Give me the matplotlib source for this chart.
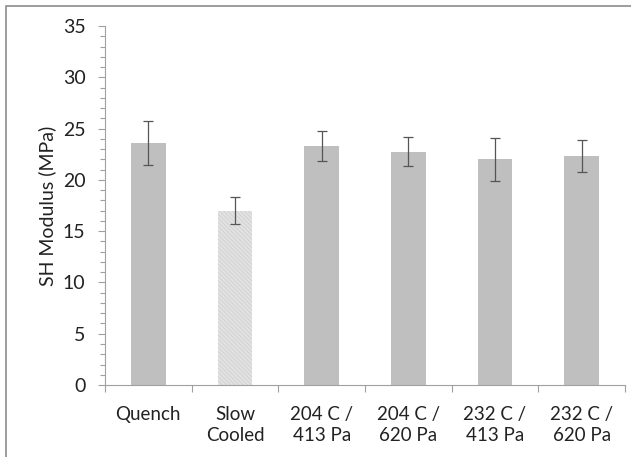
import numpy as np
import matplotlib
matplotlib.use("Agg")
import matplotlib.pyplot as plt
from matplotlib.patches import Rectangle
from matplotlib.ticker import MultipleLocator, FixedLocator

plt.rcParams["font.family"] = ["Lato", "DejaVu Sans"]
plt.rcParams["hatch.linewidth"] = 0.5

# SH modulus per processing condition
categories = ["Quench", "Slow\nCooled", "204 C /\n413 Pa", "204 C /\n620 Pa",
              "232 C /\n413 Pa", "232 C /\n620 Pa"]
modulus = [23.6, 17.0, 23.3, 22.75, 22.0, 22.35]
modulus_err = [2.15, 1.3, 1.5, 1.4, 2.1, 1.55]

fig = plt.figure(figsize=(6.31, 4.57), dpi=100)
ax = fig.add_axes([0.1664, 0.1575, 0.8241, 0.7855])

x = np.arange(len(categories))
bars = ax.bar(x, modulus, width=0.4, color="#bfbfbf", zorder=2)
# slow cooled sample drawn with a light, fine hatched fill
bars[1].set_facecolor("#e2e2e2")
bars[1].set_hatch("\\\\\\\\\\\\\\\\")
bars[1].set_edgecolor("#cdcdcd")
bars[1].set_linewidth(0)

ax.errorbar(x, modulus, yerr=modulus_err, fmt="none", ecolor="#555555",
            elinewidth=0.9, capsize=3.5, capthick=0.9, zorder=3)

ax.set_xlim(-0.5, len(categories) - 0.5)
ax.set_ylim(0, 35)
ax.yaxis.set_major_locator(MultipleLocator(5))
ax.yaxis.set_minor_locator(MultipleLocator(1))
ax.set_xticks(x)
ax.set_xticklabels(categories, fontsize=13.5, color="#222222", linespacing=1.3)
ax.xaxis.set_minor_locator(FixedLocator(np.arange(-0.5, len(categories), 1.0)))
ax.tick_params(axis="x", which="major", length=0, pad=15)
ax.tick_params(axis="x", which="minor", length=5, color="#a0a0a0", width=0.8)
ax.tick_params(axis="y", which="major", length=5, color="#a0a0a0", width=0.8,
               labelsize=14, labelcolor="#222222", pad=9)
ax.tick_params(axis="y", which="minor", length=3.5, color="#a0a0a0", width=0.8)

for s in ["top", "right"]:
    ax.spines[s].set_visible(False)
for s in ["left", "bottom"]:
    ax.spines[s].set_color("#a0a0a0")
    ax.spines[s].set_linewidth(0.8)

ax.set_ylabel("SH Modulus (MPa)", fontsize=14, color="#222222", labelpad=5)

# chart area outline
fig.patches.append(Rectangle((6 / 631, -0.2), 1.2, 1 - 6 / 457 + 0.2,
                             transform=fig.transFigure, fill=False,
                             edgecolor="#8c8c8c", linewidth=1.2))

fig.savefig("out.png", dpi=100)
